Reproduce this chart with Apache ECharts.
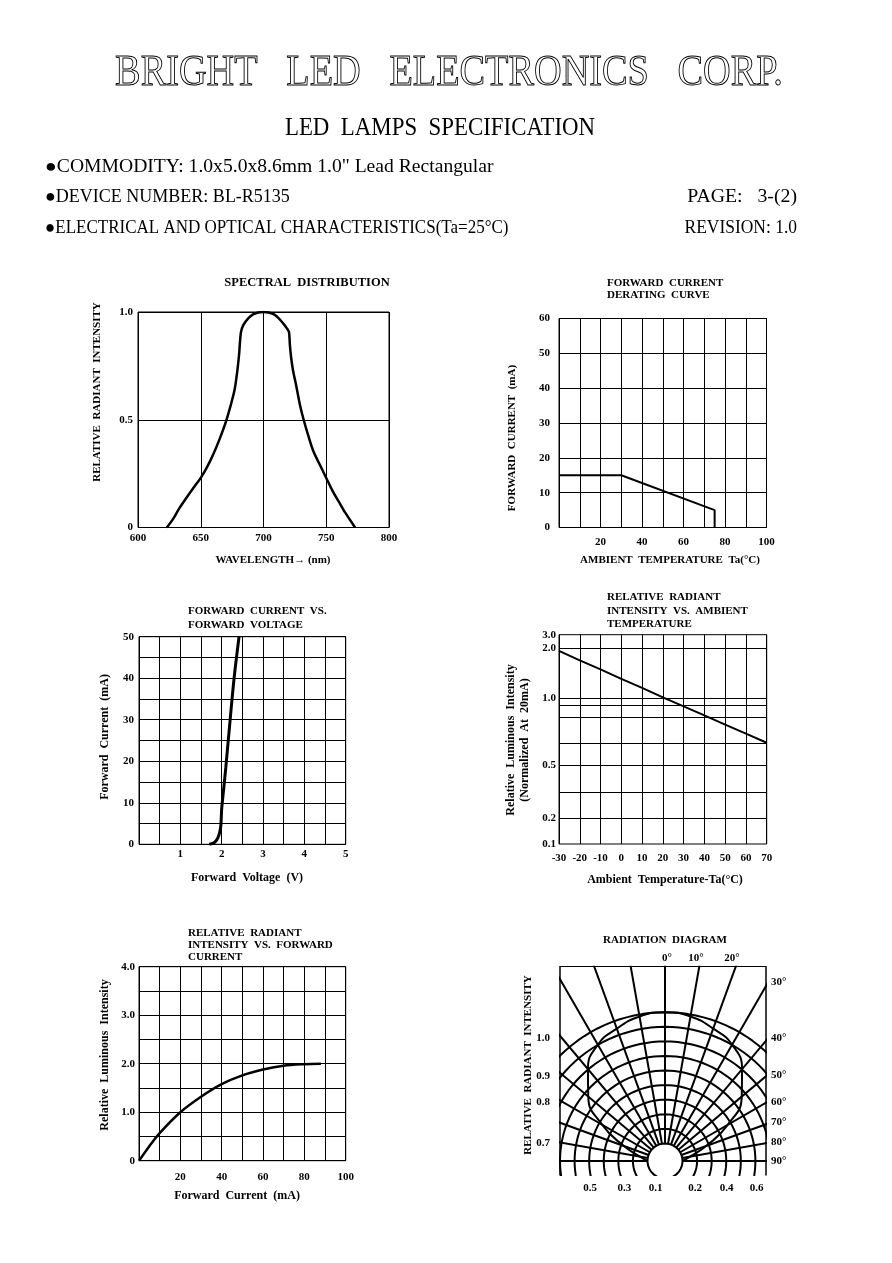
<!DOCTYPE html>
<html><head><meta charset="utf-8">
<script src="https://cdn.jsdelivr.net/npm/echarts@6/dist/echarts.min.js"></script>
<style>html,body{margin:0;padding:0;background:#fff}#c{width:892px;height:1263px}</style>
</head><body><div id="c"></div>
<script>
// ---------- DATA ----------
// Spectral distribution
const specWavelength = [623,628,633,640,645,650,655,660,665,670,674,677,679,680.5,682,684,688,692,696,700,704,708,712,716,718.5,720.3,721,722,723.5,726,729,732,736,740,745,750,755,760,765,773];
const specIntensity  = [0,0.04,0.09,0.15,0.19,0.23,0.28,0.34,0.41,0.49,0.57,0.64,0.72,0.80,0.905,0.94,0.972,0.99,0.998,1.0,0.998,0.99,0.972,0.945,0.925,0.907,0.85,0.79,0.73,0.66,0.57,0.50,0.42,0.35,0.29,0.23,0.17,0.12,0.07,0];

// Forward current derating curve
const deratingTemp = [0,30,75,75];
const deratingCurrent = [15,15,5,0];

// Forward current vs forward voltage
const ivVoltage = [1.7,1.8,1.86,1.91,1.95,1.98,2.0,2.05,2.1,2.2,2.3,2.42];
const ivCurrent = [0,0.3,0.8,1.6,2.8,4.5,8.5,13.5,18.5,29.5,40,50];

// Relative intensity vs ambient temperature
const tempAmbient = [-30,-20,-10,0,10,20,30,40,50,60,70];
const tempIntensity = [1.95,1.76,1.58,1.39,1.21,1.02,0.94,0.872,0.804,0.736,0.668];
const tempTickLabels = ['0.1','0.2','0.5','1.0','2.0','3.0'];
const tempTickValues = [0.1,0.2,0.5,1.0,2.0,3.0];

// Relative intensity vs forward current
const liCurrent = [0,5,10,20,30,40,50,60,70,80,88];
const liIntensity = [0,0.3,0.57,1.0,1.32,1.58,1.76,1.88,1.96,1.99,2.0];

// Radiation diagram
const radAngles = [0,10,20,30,40,50,60,70,80,90];
const radIntensity = [1.0,0.985,0.94,0.89,0.78,0.63,0.42,0.2,0.06,0];
const radLeftLabels = ['1.0','0.9','0.8','0.7'];
const radRightLabels = ['30°','40°','50°','60°','70°','80°','90°'];
const radTopLabels = ['0°','10°','20°'];
const radBottomLabels = ['0.5','0.3','0.1','0.2','0.4','0.6'];

// ---------- SCALE / LAYOUT HELPERS ----------
const FONT = "'Liberation Serif', 'DejaVu Serif', serif";
// the temperature chart's non-uniform vertical scale (axis position units)
const tempTickPos = [0,25.7,78.7,145.7,195.7,209.3];
const tempExtraGridPos = [51.3,100.7,126.7,139];
function tempToPos(v){
  for(let i=0;i<tempTickValues.length-1;i++){
    const a=tempTickValues[i], b=tempTickValues[i+1];
    if(v<=b || i===tempTickValues.length-2){
      return tempTickPos[i] + (v-a)/(b-a)*(tempTickPos[i+1]-tempTickPos[i]);
    }
  }
}
// radiation diagram geometry (axis units)
const radInner = 17.5, radRingStep = 14.58, radRings = 10;
const radLeftPos = [122.7,85.3,59.3,17.7];
const radRightPos = [179,123.3,86,59.3,39.3,19.3,0];
const radTopPos = [2,31,67];
const radBottomPos = [-75,-40.7,-9.3,30,61.7,91.7];

const lbl = (o) => Object.assign({fontFamily: FONT, fontWeight:'bold', fontSize: 11, color:'#000'}, o||{});
const gridLine = {show:true, lineStyle:{color:'#000', width:1}};
function vAxis(gi, min, max, interval, fmt, margin, extra){
  return Object.assign({type:'value', gridIndex:gi, min, max, interval,
    axisLine:{show:false}, axisTick:{show:false}, splitLine: gridLine,
    axisLabel: lbl({formatter: fmt, margin})}, extra||{});
}
const zip = (a,b) => a.map((v,i)=>[v,b[i]]);
const curve = (xi, yi, data, w, smooth) => ({type:'line', xAxisIndex:xi, yAxisIndex:yi, data, symbol:'none', showSymbol:false,
  smooth: smooth||false, lineStyle:{color:'#000', width:w}, silent:true, z:5});

// radiation diagram construction
const radSeries = [];
const radR = (I) => radInner + I*(radRings-1)*radRingStep;
const pol = (r, deg) => [r*Math.sin(deg*Math.PI/180), r*Math.cos(deg*Math.PI/180)];
for(let k=0;k<radRings;k++){
  const r = radInner + k*radRingStep, pts=[];
  for(let a=0;a<=360;a+=3) pts.push(pol(r,a));
  radSeries.push(curve(5,5,pts,2,false));
}
for(let a=-90;a<=90;a+=10){
  radSeries.push(curve(5,5,[pol(radInner,a), pol(240,a)],2,false));
}
const patAng = radAngles.slice(1).reverse().map(a=>-a).concat(radAngles);
const patI = radIntensity.slice(1).reverse().concat(radIntensity);
radSeries.push(curve(5,5, patAng.map((a,i)=>pol(radR(patI[i]),a)), 2, true));

// ---------- TEXT ----------
const T = (text, x, y, o) => Object.assign({type:'text', x, y, silent:true,
  style: Object.assign({text, font:'bold 11px '+FONT, fill:'#000', align:'center', verticalAlign:'middle'}, (o&&o.style)||{})},
  o ? (({style, ...rest})=>rest)(o) : {});
const V = (text, x, y, font) => T(text, x, y, {rotation: Math.PI/2, style:{font: font || 'bold 11px '+FONT}});
const L = (text, x, y, font, sx) => T(text, x, y, {scaleX: sx||1, style:{align:'left', font: font || 'bold 11px '+FONT}});
const R = (text, x, y, font, sx) => T(text, x, y, {scaleX: sx||1, style:{align:'right', font: font || 'bold 11px '+FONT}});

const HF = '18px '+FONT;
const texts = [
  T('BRIGHT   LED   ELECTRONICS   CORP.', 449, 73, {scaleX:0.87, style:{font:'44px '+FONT, fill:'none', stroke:'#000', lineWidth:1}}),
  T('LED  LAMPS  SPECIFICATION', 440, 128, {scaleX:0.88, style:{font:'26px '+FONT}}),
  L('●COMMODITY: 1.0x5.0x8.6mm 1.0" Lead Rectangular', 45, 167, HF, 1.09),
  L('●DEVICE NUMBER: BL-R5135', 45, 197, HF, 1.0),
  L('●ELECTRICAL AND OPTICAL CHARACTERISTICS(Ta=25°C)', 45, 228, HF, 0.945),
  R('PAGE:   3-(2)', 797, 197, HF, 1.1),
  R('REVISION: 1.0', 797, 228, HF, 0.97),

  T('SPECTRAL  DISTRIBUTION', 307, 283, {style:{font:'bold 12.5px '+FONT}}),
  V('RELATIVE  RADIANT  INTENSITY', 97, 392),
  T('WAVELENGTH→ (nm)', 273, 560),

  L('FORWARD  CURRENT', 607, 283),
  L('DERATING  CURVE', 607, 295),
  V('FORWARD  CURRENT  (mA)', 512, 438),
  T('AMBIENT  TEMPERATURE  Ta(°C)', 670, 560),

  L('FORWARD  CURRENT  VS.', 188, 611),
  L('FORWARD  VOLTAGE', 188, 625),
  V('Forward  Current  (mA)', 105, 737, 'bold 12px '+FONT),
  T('Forward  Voltage  (V)', 247, 878, {style:{font:'bold 12px '+FONT}}),

  L('RELATIVE  RADIANT', 607, 597),
  L('INTENSITY  VS.  AMBIENT', 607, 611.5),
  L('TEMPERATURE', 607, 624.5),
  V('Relative  Luminous  Intensity', 511, 740, 'bold 12px '+FONT),
  V('(Normalized  At  20mA)', 525, 740, 'bold 12px '+FONT),
  T('Ambient  Temperature-Ta(°C)', 665, 880, {style:{font:'bold 12px '+FONT}}),

  L('RELATIVE  RADIANT', 188, 933),
  L('INTENSITY  VS.  FORWARD', 188, 945),
  L('CURRENT', 188, 957.5),
  V('Relative  Luminous  Intensity', 105, 1055, 'bold 12px '+FONT),
  T('Forward  Current  (mA)', 237, 1196, {style:{font:'bold 12px '+FONT}}),

  T('RADIATION  DIAGRAM', 665, 940),
  V('RELATIVE  RADIANT  INTENSITY', 528, 1065)
];

// ---------- OPTION ----------
const box = {show:true, borderColor:'#000', borderWidth:1, backgroundColor:'transparent'};
const option = {
  animation:false,
  backgroundColor:'#fff',
  grid:[
    Object.assign({left:138, top:312, width:251, height:215.5}, box),
    Object.assign({left:559, top:318.5, width:207.5, height:209}, box),
    Object.assign({left:139, top:636.7, width:206.7, height:207.6}, box),
    Object.assign({left:559, top:634.7, width:207.7, height:209.3}, box),
    Object.assign({left:139, top:966.7, width:206.7, height:194}, box),
    {left:560, top:966.7, width:206, height:208.3, show:false}
  ],
  xAxis:[
    vAxis(0, 600, 800, 50, v=>String(v), 5),
    vAxis(1, 0, 100, 10, v=>(v>0 && v%20===0)?String(v):'', 9),
    vAxis(2, 0, 5, 0.5, v=>(v>0 && Number.isInteger(v))?String(v):'', 4),
    vAxis(3, -30, 70, 10, v=>String(v), 9),
    vAxis(4, 0, 100, 10, v=>(v>0 && v%20===0)?String(v):'', 11),
    {type:'value', gridIndex:5, min:-105, max:101, position:'bottom', axisLine:{show:false}, axisTick:{show:false}, splitLine:{show:false},
      axisLabel: lbl({customValues: radBottomPos, margin:8, formatter:(v)=>radBottomLabels[radBottomPos.indexOf(v)] ?? ''})},
    {type:'value', gridIndex:5, min:-105, max:101, position:'top', axisLine:{show:true, onZero:false, lineStyle:{color:'#000', width:1}}, axisTick:{show:false}, splitLine:{show:false},
      axisLabel: lbl({customValues: radTopPos, margin:3, formatter:(v)=>radTopLabels[radTopPos.indexOf(v)] ?? ''})}
  ],
  yAxis:[
    vAxis(0, 0, 1, 0.5, v=>v===0?'0':v.toFixed(1), 5),
    vAxis(1, 0, 60, 10, v=>String(v), 9),
    vAxis(2, 0, 50, 5, v=>v%10===0?String(v):'', 5),
    {type:'value', gridIndex:3, min:0, max:tempTickPos[tempTickPos.length-1], axisLine:{show:false}, axisTick:{show:false}, splitLine:{show:false},
      axisLabel: lbl({customValues: tempTickPos, margin:3, formatter:(v)=>tempTickLabels[tempTickPos.indexOf(v)] ?? ''})},
    vAxis(4, 0, 4, 0.5, v=>v===0?'0':(Number.isInteger(v)?v.toFixed(1):''), 4),
    {type:'value', gridIndex:5, min:-14, max:194.3, position:'left', axisLine:{show:true, onZero:false, lineStyle:{color:'#000', width:1.5}}, axisTick:{show:false}, splitLine:{show:false},
      axisLabel: lbl({customValues: radLeftPos, margin:10, formatter:(v)=>radLeftLabels[radLeftPos.indexOf(v)] ?? ''})},
    {type:'value', gridIndex:5, min:-14, max:194.3, position:'right', axisLine:{show:true, onZero:false, lineStyle:{color:'#000', width:1.5}}, axisTick:{show:false}, splitLine:{show:false},
      axisLabel: lbl({customValues: radRightPos, margin:5, formatter:(v)=>radRightLabels[radRightPos.indexOf(v)] ?? ''})}
  ],
  series:[
    curve(0,0, zip(specWavelength, specIntensity), 2.5, 0.3),
    curve(1,1, zip(deratingTemp, deratingCurrent), 2),
    curve(2,2, zip(ivVoltage, ivCurrent), 3, 0.3),
    Object.assign(curve(3,3, tempAmbient.map((t,i)=>[t, tempToPos(tempIntensity[i])]), 2), {
      markLine:{silent:true, symbol:['none','none'], label:{show:false}, animation:false,
        lineStyle:{color:'#000', width:1, type:'solid'},
        data: tempTickPos.slice(1,-1).concat(tempExtraGridPos).map(p=>({yAxis:p}))}
    }),
    curve(4,4, zip(liCurrent, liIntensity), 2.5, 0.3)
  ].concat(radSeries),
  graphic:{elements: texts}
};
const chart = echarts.init(document.getElementById('c'), null, {renderer:'canvas'});
chart.setOption(option);
</script></body></html>
